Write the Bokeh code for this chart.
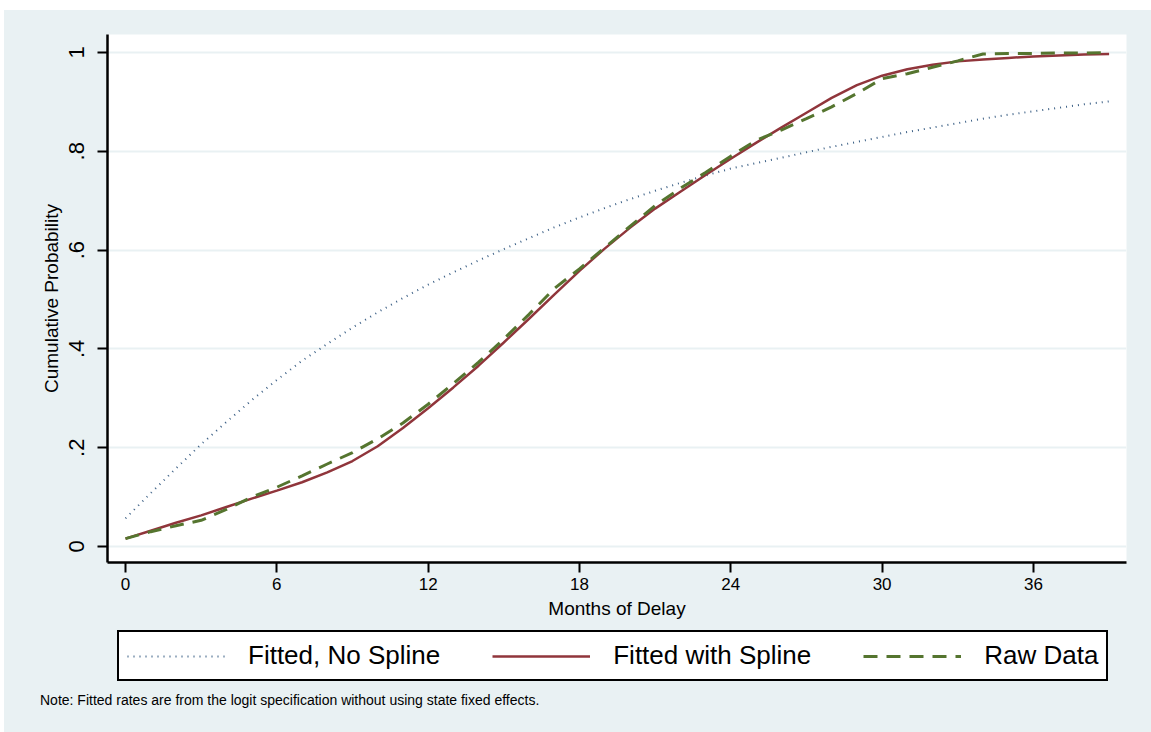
from bokeh.plotting import figure
from bokeh.layouts import column
from bokeh.models import Legend, LegendItem, Div, FixedTicker, Range1d
from bokeh.embed import file_html
from bokeh.resources import INLINE

# ---------------- data ----------------
months = list(range(0, 40))
fitted_no_spline = [0.057, 0.108, 0.158, 0.207, 0.252, 0.296, 0.337, 0.376, 0.410, 0.443,
                    0.474, 0.503, 0.530, 0.555, 0.579, 0.602, 0.624, 0.646, 0.666, 0.685,
                    0.703, 0.720, 0.736, 0.751, 0.765, 0.776, 0.787, 0.798, 0.809, 0.819,
                    0.829, 0.839, 0.848, 0.857, 0.866, 0.874, 0.881, 0.888, 0.895, 0.901]
fitted_spline = [0.016, 0.032, 0.048, 0.063, 0.080, 0.097, 0.113, 0.130, 0.150, 0.173,
                 0.203, 0.240, 0.280, 0.322, 0.366, 0.413, 0.461, 0.510, 0.558, 0.603,
                 0.645, 0.684, 0.718, 0.752, 0.785, 0.817, 0.848, 0.878, 0.908, 0.934,
                 0.953, 0.966, 0.975, 0.982, 0.986, 0.989, 0.992, 0.994, 0.996, 0.997]
raw_data = [0.016, 0.030, 0.042, 0.053, 0.075, 0.100, 0.120, 0.143, 0.167, 0.190,
            0.218, 0.250, 0.288, 0.330, 0.373, 0.420, 0.470, 0.522, 0.562, 0.605,
            0.648, 0.690, 0.725, 0.757, 0.790, 0.822, 0.843, 0.866, 0.890, 0.917,
            0.947, 0.957, 0.970, 0.983, 0.997, 0.998, 0.998, 0.999, 0.999, 1.000]
x_ticks = [0, 6, 12, 18, 24, 30, 36]
y_ticks = [0, 0.2, 0.4, 0.6, 0.8, 1.0]
y_tick_labels = ["0", ".2", ".4", ".6", ".8", "1"]
series_labels = ["Fitted, No Spline", "Fitted with Spline", "Raw Data"]
x_title = "Months of Delay"
y_title = "Cumulative Probability"
note_text = "Note: Fitted rates are from the logit specification without using state fixed effects."

# ---------------- styling ----------------
BG = "#e9f1f3"
FONT = "Liberation Sans"
C_NAVY = "#3b5f85"
C_MAROON = "#90353b"
C_GREEN = "#55752f"
STYLES = [dict(line_color=C_NAVY, line_width=2, line_dash="1 5"),
          dict(line_color=C_MAROON, line_width=2.5),
          dict(line_color=C_GREEN, line_width=3, line_dash="14 9")]
SERIES = [fitted_no_spline, fitted_spline, raw_data]

W = 1147
H_MAIN = 620
H_LEG = 56
H_NOTE = 46

p = figure(width=W, height=H_MAIN, output_backend="svg", toolbar_location=None,
           x_range=Range1d(-0.714, 39.69), y_range=Range1d(-0.0324, 1.0364),
           min_border_left=103, min_border_right=25, min_border_top=24, min_border_bottom=68,
           background_fill_color="white", border_fill_color=BG, outline_line_color=None,
           margin=0)

p.xgrid.visible = False
p.ygrid.grid_line_color = BG
p.ygrid.grid_line_width = 2

p.xaxis.ticker = FixedTicker(ticks=x_ticks)
p.yaxis.ticker = FixedTicker(ticks=y_ticks)
p.yaxis.major_label_overrides = {t: l for t, l in zip(y_ticks, y_tick_labels)}
p.yaxis.major_label_orientation = "vertical"

for ax in (p.xaxis, p.yaxis):
    ax.axis_line_color = "black"
    ax.axis_line_width = 2.5
    ax.major_tick_line_color = "black"
    ax.major_tick_line_width = 2
    ax.major_tick_out = 10
    ax.major_tick_in = 0
    ax.minor_tick_line_color = None
    ax.major_label_text_font = FONT
    ax.major_label_text_color = "black"
    ax.axis_label_text_font = FONT
    ax.axis_label_text_font_style = "normal"
    ax.axis_label_text_color = "black"

p.xaxis.major_label_text_font_size = "17px"
p.xaxis.axis_label = x_title
p.xaxis.axis_label_text_font_size = "19px"
p.xaxis.major_label_standoff = 5
p.xaxis.axis_label_standoff = 5
p.yaxis.major_label_text_font_size = "22px"
p.yaxis.axis_label = y_title
p.yaxis.axis_label_text_font_size = "19px"
p.yaxis.major_label_standoff = 13
p.yaxis.axis_label_standoff = 5

for ys, st in zip(SERIES, STYLES):
    p.line(months, ys, **st)

# ---------------- legend panel ----------------
# same series drawn again, kept below this panel's visible y-range; only the legend shows
q = figure(width=W, height=H_LEG, output_backend="svg", toolbar_location=None,
           x_range=Range1d(-0.714, 39.69), y_range=Range1d(2, 3),
           x_axis_location=None, y_axis_location=None,
           min_border_left=103, min_border_right=25, min_border_top=0, min_border_bottom=0,
           background_fill_color=BG, border_fill_color=BG, outline_line_color=None,
           margin=0)
q.xgrid.visible = False
q.ygrid.visible = False

legend_renderers = [q.line(months, ys, **st) for ys, st in zip(SERIES, STYLES)]
legend = Legend(items=[LegendItem(label=lab, renderers=[r])
                       for lab, r in zip(series_labels, legend_renderers)],
                orientation="horizontal", location=(10, 5),
                glyph_width=98, glyph_height=24, label_standoff=23, spacing=52, padding=8,
                label_text_font=FONT, label_text_font_size="26px", label_text_color="black",
                label_height=26,
                border_line_color="black", border_line_width=2.5, border_line_alpha=1.0,
                background_fill_color="white", background_fill_alpha=1.0)
q.add_layout(legend)

# ---------------- note ----------------
note = Div(text=('<div style="padding:7px 0 0 36px; font-family:\'Liberation Sans\'; '
                 'font-size:14px; line-height:14px; color:black; white-space:nowrap;">'
                 + note_text + '</div>'),
           width=W, height=H_NOTE, margin=0, styles={"background-color": BG})

layout = column(p, q, note, spacing=0, margin=(10, 0, 0, 4),
                styles={"background-color": BG})
open("out.html", "w").write(file_html(layout, INLINE))
